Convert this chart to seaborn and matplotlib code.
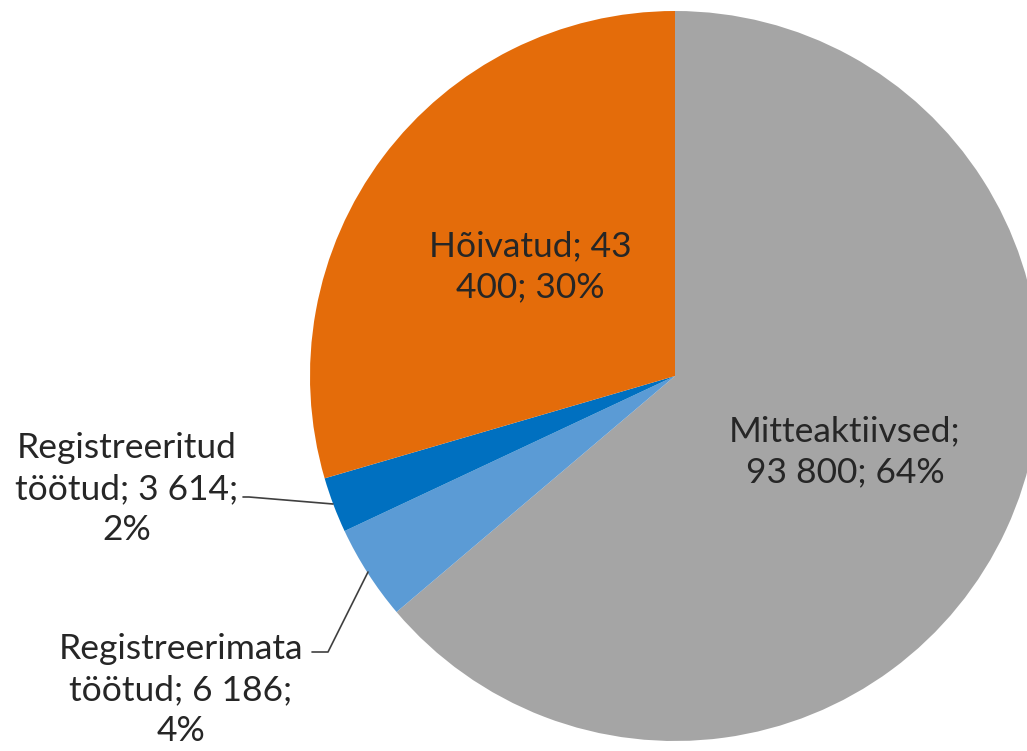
import matplotlib
matplotlib.use("Agg")
import matplotlib.pyplot as plt
import seaborn as sns

# ---- data ----
categories = ["Mitteaktiivsed", "Registreerimata töötud", "Registreeritud töötud", "Hõivatud"]
values = [93800, 6186, 3614, 43400]
percents = [64, 4, 2, 30]
label_texts = [
    "Mitteaktiivsed;\n93 800; 64%",
    "Registreerimata\ntöötud; 6 186;\n4%",
    "Registreeritud\ntöötud; 3 614;\n2%",
    "Hõivatud; 43\n400; 30%",
]
colors = ["#A5A5A5", "#5B9BD5", "#0070C0", "#E46C0A"]

sns.set_theme(style="white")
plt.rcParams["font.family"] = ["Lato", "DejaVu Sans"]

W, H = 1027, 751
fig = plt.figure(figsize=(W / 100, H / 100), dpi=100)
ax = fig.add_axes([0, 0, 1, 1])

CX, CY, R = 675, 376, 365


def px(x, y):
    return ((x - CX) / R, (CY - y) / R)


ax.pie(values, colors=colors, startangle=90, counterclock=False,
       radius=1, center=(0, 0), wedgeprops=dict(linewidth=0))

ax.set_xlim(-CX / R, (W - CX) / R)
ax.set_ylim((CY - H) / R, CY / R)
ax.set_aspect("auto")
ax.axis("off")

label_pos = [(845, 452), (181, 690), (127, 489), (530, 267)]
fs = 25.5
for txt, (x, y) in zip(label_texts, label_pos):
    ax.text(*px(x, y), txt, ha="center", va="center", fontsize=fs,
            color="#262626", linespacing=1.33)

# leader lines
l1 = [px(243, 497), px(249, 497), px(333, 504)]
ax.plot([p[0] for p in l1], [p[1] for p in l1], color="#404040", lw=1.2)
l2 = [px(312, 652), px(328, 652), px(368, 572)]
ax.plot([p[0] for p in l2], [p[1] for p in l2], color="#404040", lw=1.2)

fig.savefig("out.png", dpi=100)
